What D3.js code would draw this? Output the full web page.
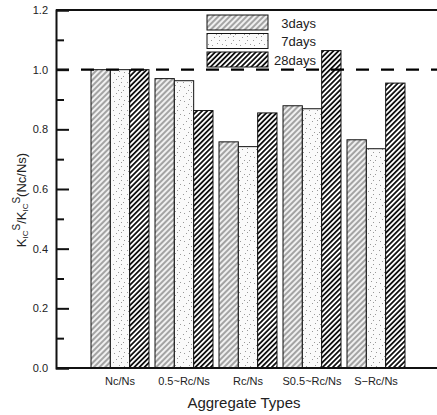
<!DOCTYPE html>
<html>
<head>
<meta charset="utf-8">
<script src="https://cdn.jsdelivr.net/npm/d3@7"></script>
<style>
  html, body { margin: 0; padding: 0; background: #fff; }
  svg { display: block; font-family: "Liberation Sans", Arial, sans-serif; }
</style>
</head>
<body>
<svg id="chart" width="437" height="415"></svg>
<script>
// Aggregate types on the x axis
const categories = ["Nc/Ns", "0.5~Rc/Ns", "Rc/Ns", "S0.5~Rc/Ns", "S\u2212Rc/Ns"];
// Curing ages
const seriesNames = ["3days", "7days", "28days"];
// Normalised fracture toughness K_IC^S / K_IC^S(Nc/Ns)
const days3 = [1.00, 0.970, 0.758, 0.879, 0.765];
const days7 = [1.00, 0.963, 0.742, 0.869, 0.735];
const days28 = [1.00, 0.863, 0.855, 1.064, 0.955];
const yTicks = [0.0, 0.2, 0.4, 0.6, 0.8, 1.0, 1.2];
const referenceLevel = 1.0;

const seriesValues = [days3, days7, days28];

const svg = d3.select("#chart");
const plotLeft = 56, plotRight = 437, plotTop = 10, plotBottom = 368;

// Fill patterns for each curing age
const defs = svg.append("defs");
function hatch(id, spacing, width, color, bg) {
  const p = defs.append("pattern").attr("id", id)
    .attr("patternUnits", "userSpaceOnUse")
    .attr("width", spacing).attr("height", spacing)
    .attr("patternTransform", "rotate(45)");
  p.append("rect").attr("width", spacing).attr("height", spacing).attr("fill", bg);
  p.append("line").attr("x1", spacing / 2).attr("y1", 0).attr("x2", spacing / 2).attr("y2", spacing)
    .attr("stroke", color).attr("stroke-width", width);
}
hatch("p3", 4.0, 0.9, "#444", "#f0f0f0");
hatch("p28", 3.6, 1.8, "#111", "#fff");
const dots = defs.append("pattern").attr("id", "p7")
  .attr("patternUnits", "userSpaceOnUse").attr("width", 14).attr("height", 14);
dots.append("rect").attr("width", 14).attr("height", 14).attr("fill", "#fafafa");
[[2,3],[7,1],[11,6],[4,9],[9,12],[1,12],[12,2],[6,6],[9,8]].forEach(([cx, cy]) => {
  dots.append("rect").attr("x", cx).attr("y", cy).attr("width", 1).attr("height", 1).attr("fill", "#999");
});
const fills = ["url(#p3)", "url(#p7)", "url(#p28)"];

const x = d3.scaleBand().domain(categories).range([88, 408])
  .paddingInner(0.094).paddingOuter(0.047);
const xs = d3.scaleBand().domain(seriesNames).range([0, x.bandwidth()]);
const y = d3.scaleLinear().domain([0, 1.2]).range([plotBottom, plotTop]);

// Bars
categories.forEach((cat, i) => {
  seriesNames.forEach((s, j) => {
    const v = seriesValues[j][i];
    svg.append("rect")
      .attr("x", x(cat) + xs(s))
      .attr("y", y(v))
      .attr("width", xs.bandwidth())
      .attr("height", y(0) - y(v))
      .attr("fill", fills[j])
      .attr("stroke", "#111")
      .attr("stroke-width", 1);
  });
});

// Reference level
svg.append("line")
  .attr("x1", plotLeft).attr("x2", plotRight)
  .attr("y1", y(referenceLevel)).attr("y2", y(referenceLevel))
  .attr("stroke", "#000").attr("stroke-width", 2.2)
  .attr("stroke-dasharray", "13,12");

// Frame lines
svg.append("line").attr("x1", plotLeft).attr("x2", plotRight).attr("y1", plotTop).attr("y2", plotTop)
  .attr("stroke", "#111").attr("stroke-width", 2);
svg.append("line").attr("x1", plotLeft).attr("x2", plotRight).attr("y1", plotBottom).attr("y2", plotBottom)
  .attr("stroke", "#111").attr("stroke-width", 2);

// Y axis with inward major and minor ticks
const yAxis = d3.axisLeft(y).tickValues(yTicks).tickFormat(d3.format(".1f"))
  .tickSize(-13).tickPadding(8);
const gy = svg.append("g").attr("transform", `translate(${plotLeft},0)`).call(yAxis);
gy.select(".domain").attr("stroke", "#111").attr("stroke-width", 2);
gy.selectAll(".tick line").attr("stroke", "#111").attr("stroke-width", 2);
gy.selectAll(".tick text").attr("font-size", 11).attr("fill", "#222")
  .attr("font-family", "Liberation Sans, Arial, sans-serif");
const minor = d3.range(0.1, 1.2, 0.2);
const gm = svg.append("g").attr("transform", `translate(${plotLeft},0)`)
  .call(d3.axisLeft(y).tickValues(minor).tickSize(-8).tickFormat(""));
gm.select(".domain").remove();
gm.selectAll(".tick line").attr("stroke", "#111").attr("stroke-width", 2);

// Category labels
const gx = svg.append("g").attr("transform", `translate(0,${plotBottom})`)
  .call(d3.axisBottom(x).tickSize(0).tickPadding(9));
gx.select(".domain").remove();
gx.selectAll(".tick text").attr("font-size", 11).attr("fill", "#222")
  .attr("font-family", "Liberation Sans, Arial, sans-serif");

// Axis titles
svg.append("text").attr("x", 244).attr("y", 408).attr("text-anchor", "middle")
  .attr("font-size", 15).attr("fill", "#222").text("Aggregate Types");

const yt = svg.append("text").attr("transform", "translate(26,200) rotate(-90)")
  .attr("text-anchor", "middle").attr("font-size", 13).attr("fill", "#222");
yt.append("tspan").text("K");
yt.append("tspan").attr("font-size", 8).attr("dy", 2).text("IC");
yt.append("tspan").attr("font-size", 10).attr("dy", -8).text("S");
yt.append("tspan").attr("dy", 6).text("/K");
yt.append("tspan").attr("font-size", 8).attr("dy", 2).text("IC");
yt.append("tspan").attr("font-size", 10).attr("dy", -8).text("S");
yt.append("tspan").attr("dy", 6).text("(Nc/Ns)");

// Legend
const legend = svg.append("g");
seriesNames.forEach((s, j) => {
  const ly = 15 + j * 18.5;
  legend.append("rect").attr("x", 207).attr("y", ly).attr("width", 61).attr("height", 15)
    .attr("fill", fills[j]).attr("stroke", "#111").attr("stroke-width", 1);
  legend.append("text").attr("x", 316).attr("y", ly + 12.5).attr("text-anchor", "end")
    .attr("font-size", 13).attr("fill", "#222").text(s);
});
</script>
</body>
</html>
